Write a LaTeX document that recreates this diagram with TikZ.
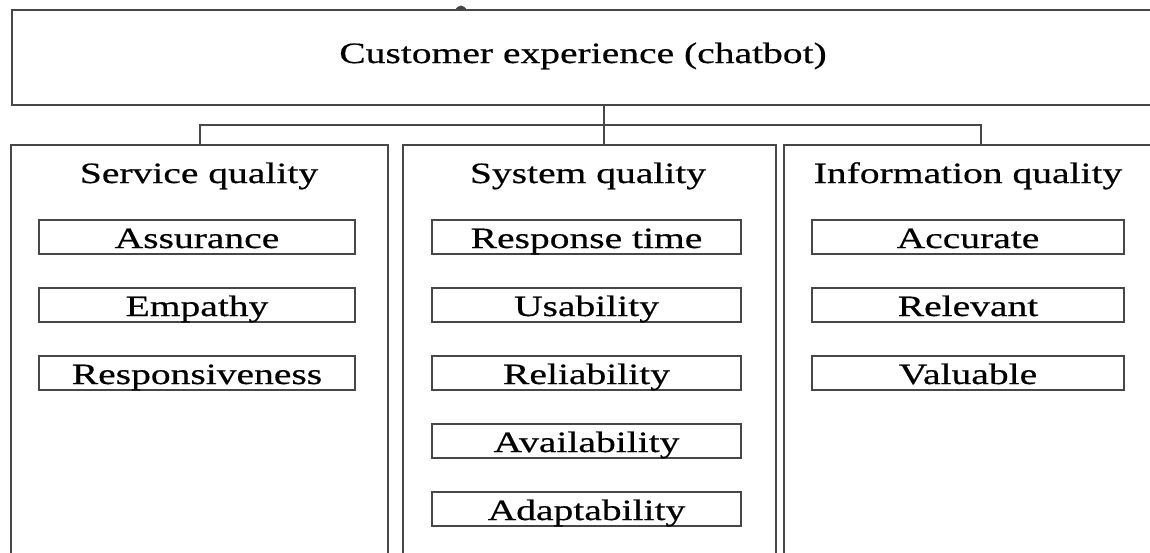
\documentclass[tikz,border=0pt]{standalone}
\usepackage{fontspec}
\setmainfont{Liberation Serif}[FakeStretch=1.34,FakeBold=0.5]
\begin{document}
\begin{tikzpicture}[x=1pt,y=-1pt,
  line width=1.2pt,
  lc/.style={draw=black!72},
  topbox/.style={lc,minimum width=1142pt,minimum height=95pt,inner sep=0pt},
  colbox/.style={lc,minimum width=#1,minimum height=455pt,inner sep=0pt},
  itembox/.style={lc,minimum width=#1,minimum height=34pt,inner sep=0pt,text height=25pt,text depth=3pt},
  lbl/.style={inner sep=0pt,anchor=base},
  every node/.style={font=\fontsize{29.5}{35}\selectfont}
]
\useasboundingbox (0,0) rectangle (1150,552);
\clip (0,0) rectangle (1150,552);
\fill[white] (0,0) rectangle (1150,552);

% top box
\node[topbox] (top) at (583,57.5) {};
\node[lbl] (toptext) at (583,63) {Customer experience (chatbot)};
\fill[black!72] (455,10.5) .. controls (458,4) and (464,4) .. (467,10.5) -- cycle;

% columns
\node[colbox=377pt] (col1) at (199.5,372.5) {};
\node[colbox=373pt] (col2) at (589.5,372.5) {};
\node[colbox=373pt] (col3) at (970.5,372.5) {};

% connectors
\coordinate (j) at (604,125);
\coordinate (c1) at (200,125);
\coordinate (c3) at (981,125);
\draw[lc] (top.south -| j) -- (j |- col2.north);
\draw[lc] (c1 |- col1.north) -- (c1) -- (c3) -- (c3 |- col3.north);

% titles
\node[lbl] (t1) at (199,183) {Service quality};
\node[lbl] (t2) at (588,183) {System quality};
\node[lbl] (t3) at (968,183) {Information quality};

% service quality items
\node[itembox=316pt] (s1) at (197,237) {Assurance};
\node[itembox=316pt] (s2) at (197,305) {Empathy};
\node[itembox=316pt] (s3) at (197,373) {Responsiveness};

% system quality items
\node[itembox=309pt] (y1) at (586.5,237) {Response time};
\node[itembox=309pt] (y2) at (586.5,305) {Usability};
\node[itembox=309pt] (y3) at (586.5,373) {Reliability};
\node[itembox=309pt] (y4) at (586.5,441) {Availability};
\node[itembox=309pt] (y5) at (586.5,509) {Adaptability};

% information quality items
\node[itembox=312pt] (i1) at (968,237) {Accurate};
\node[itembox=312pt] (i2) at (968,305) {Relevant};
\node[itembox=312pt] (i3) at (968,373) {Valuable};
\end{tikzpicture}
\end{document}
